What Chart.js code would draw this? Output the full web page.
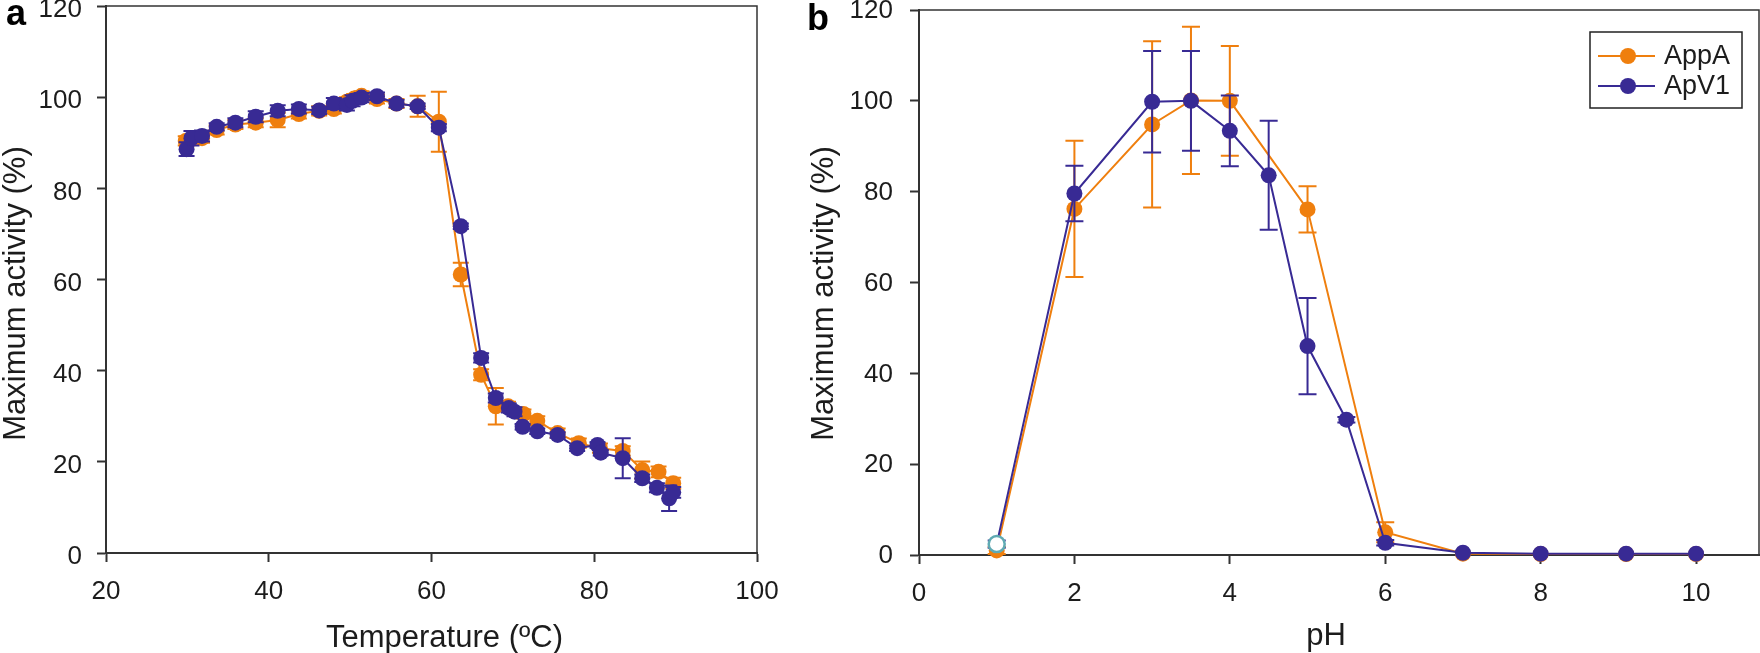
<!DOCTYPE html>
<html>
<head>
<meta charset="utf-8">
<script src="https://cdn.jsdelivr.net/npm/chart.js@4.4.0/dist/chart.umd.min.js"></script>
<style>
  html, body { margin: 0; padding: 0; background: #fff; }
  body { width: 1760px; height: 653px; position: relative; overflow: hidden; }
  canvas { position: absolute; top: 0; }
  #temp-chart { left: 0; }
  #ph-chart { left: 790px; }
</style>
</head>
<body>
<canvas id="temp-chart" width="790" height="653"></canvas>
<canvas id="ph-chart" width="970" height="653"></canvas>
<script>
// panel a: temperature profile
const tempAppA = [29.8, 30.5, 31.8, 33.6, 35.9, 38.4, 41.1, 43.7, 46.2, 48.0, 49.6, 50.5, 51.4, 53.3, 55.7, 58.3, 60.9, 63.6, 66.1, 67.9, 69.4, 71.3, 73.0, 75.5, 78.1, 80.7, 83.5, 85.9, 87.9, 89.7];
const actAppA = [90.4, 90.8, 91.0, 92.8, 94.0, 94.4, 95.0, 96.3, 97.0, 97.4, 99.0, 99.7, 100.3, 99.6, 98.6, 98.0, 94.6, 61.1, 39.1, 32.2, 32.2, 30.5, 29.0, 26.3, 24.1, 23.0, 22.4, 18.2, 17.8, 15.3];
const errAppA = [1.0, 1.0, 1.0, 1.0, 1.0, 1.0, 1.6, 1.0, 1.0, 1.0, 1.0, 1.0, 1.0, 1.0, 1.0, 2.3, 6.6, 2.6, 1.2, 4.0, 1.0, 1.0, 1.0, 1.0, 1.0, 1.0, 1.0, 1.9, 1.2, 1.2];

const tempApV1 = [29.9, 30.5, 31.8, 33.6, 35.9, 38.4, 41.1, 43.7, 46.2, 48.0, 49.6, 50.3, 51.4, 53.3, 55.7, 58.3, 60.9, 63.6, 66.1, 67.9, 69.5, 70.2, 71.2, 73.0, 75.5, 77.9, 80.4, 80.8, 83.5, 85.9, 87.7, 89.2, 89.7];
const actApV1 = [88.6, 91.0, 91.5, 93.5, 94.4, 95.7, 97.0, 97.4, 97.1, 98.6, 98.3, 99.2, 99.9, 100.2, 98.6, 98.0, 93.3, 71.7, 42.8, 34.0, 31.8, 31.0, 27.7, 26.7, 25.9, 23.0, 23.7, 22.0, 20.8, 16.4, 14.3, 12.0, 13.3];
const errApV1 = [1.5, 1.6, 1.2, 0.8, 1.0, 1.2, 1.2, 1.0, 0.8, 1.2, 1.2, 1.2, 1.0, 0.8, 0.8, 0.6, 0.8, 0.6, 1.0, 1.0, 1.0, 1.0, 0.6, 0.6, 0.6, 0.6, 0.6, 0.6, 4.4, 0.8, 1.0, 2.8, 1.2];

// panel b: pH profile
const phAppA = [1, 2, 3, 3.5, 4, 5, 6, 7, 8, 9.1, 10];
const phActAppA = [1.0, 76.2, 94.8, 100.1, 100.0, 76.1, 5.0, 0.3, 0.2, 0.2, 0.2];
const phErrAppA = [0.8, 15.0, 18.3, 16.2, 12.1, 5.1, 2.2, 0, 0, 0, 0];

const phApV1 = [1, 2, 3, 3.5, 4, 4.5, 5, 5.5, 6, 7, 8, 9.1, 10];
const phActApV1 = [2.4, 79.6, 99.8, 100.0, 93.4, 83.6, 46.0, 29.8, 2.7, 0.5, 0.3, 0.3, 0.3];
const phErrApV1 = [0.8, 6.1, 11.2, 11.0, 7.8, 12.0, 10.6, 0.6, 0.6, 0, 0, 0, 0];

const seriesNames = ['AppA', 'ApV1'];
const yTicks = [0, 20, 40, 60, 80, 100, 120];
const tempTicks = [20, 40, 60, 80, 100];
const phTicks = [0, 2, 4, 6, 8, 10];

const ORANGE = '#EF7F0E';
const PURPLE = '#382A94';
const TEAL = '#5FAAB3';
const INK = '#1c1c1c';
const AXIS = '#333333';
const FONT = '"Liberation Sans", Arial, Helvetica, sans-serif';

Chart.defaults.font.family = FONT;
Chart.defaults.color = INK;

function toPoints(xs, ys) {
    return xs.map((x, i) => ({ x: x, y: ys[i] }));
}

// vertical error bars with caps, drawn just before each dataset
const errorBars = {
    id: 'errorBars',
    beforeDatasetDraw(chart, args, opts) {
        const ds = chart.data.datasets[args.index];
        if (!ds.errors) return;
        const xs = chart.scales.x, ys = chart.scales.y;
        const ctx = chart.ctx;
        ctx.save();
        ctx.strokeStyle = ds.borderColor;
        ctx.lineWidth = opts.width || 2;
        ds.data.forEach((p, i) => {
            const e = ds.errors[i];
            if (!e) return;
            const px = xs.getPixelForValue(p.x);
            const top = ys.getPixelForValue(p.y + e);
            const bot = ys.getPixelForValue(p.y - e);
            const c = opts.cap || 8;
            ctx.beginPath();
            ctx.moveTo(px, top); ctx.lineTo(px, bot);
            ctx.moveTo(px - c, top); ctx.lineTo(px + c, top);
            ctx.moveTo(px - c, bot); ctx.lineTo(px + c, bot);
            ctx.stroke();
        });
        ctx.restore();
    }
};

// top and right edges of the plot box, axis titles, panel letter
const frame = {
    id: 'frame',
    beforeDatasetsDraw(chart, args, opts) {
        const { ctx, chartArea: a } = chart;
        ctx.save();
        ctx.strokeStyle = AXIS;
        ctx.lineWidth = 1.5;
        ctx.beginPath();
        ctx.moveTo(a.left, a.top);
        ctx.lineTo(a.right, a.top);
        ctx.lineTo(a.right, a.bottom);
        ctx.stroke();
        ctx.restore();
    },
    afterDraw(chart, args, opts) {
        const { ctx, chartArea: a } = chart;
        ctx.save();
        ctx.fillStyle = INK;
        ctx.font = '31px ' + FONT;
        ctx.textAlign = 'center';
        ctx.textBaseline = 'alphabetic';
        ctx.fillText(opts.xTitle, (a.left + a.right) / 2 + opts.xTitleDx, opts.xTitleBase);
        ctx.translate(opts.yTitleBase, (a.top + a.bottom) / 2 + opts.yTitleDy);
        ctx.rotate(-Math.PI / 2);
        ctx.fillText('Maximum activity (%)', 0, 0);
        ctx.restore();

        ctx.save();
        ctx.fillStyle = '#000';
        ctx.font = 'bold 36px ' + FONT;
        ctx.textBaseline = 'alphabetic';
        ctx.fillText(opts.letter, opts.lx, opts.ly);
        ctx.restore();
    }
};

// legend: line with marker, boxed
const lineLegend = {
    id: 'lineLegend',
    afterDraw(chart, args, opts) {
        if (!opts.show) return;
        const { ctx, chartArea: a } = chart;
        const left = a.right - 169, top = a.top + 22;
        ctx.save();
        ctx.strokeStyle = '#222';
        ctx.lineWidth = 1.5;
        ctx.strokeRect(left, top, 152, 76);
        chart.data.datasets.forEach((ds, i) => {
            const y = top + 24 + i * 30;
            ctx.strokeStyle = ds.borderColor;
            ctx.lineWidth = 2;
            ctx.beginPath();
            ctx.moveTo(left + 8, y); ctx.lineTo(left + 65, y);
            ctx.stroke();
            ctx.fillStyle = ds.borderColor;
            ctx.beginPath();
            ctx.arc(left + 38, y, 8, 0, Math.PI * 2);
            ctx.fill();
            ctx.fillStyle = INK;
            ctx.font = '27px ' + FONT;
            ctx.textBaseline = 'middle';
            ctx.fillText(ds.label, left + 74, y + 1);
        });
        ctx.restore();
    }
};

function axisCommon(ticks, labelPad, tickLabelOffset) {
    return {
        type: 'linear',
        min: ticks[0],
        max: ticks[ticks.length - 1],
        border: { display: true, color: AXIS, width: 2 },
        grid: { display: true, drawOnChartArea: false, drawTicks: true, tickLength: 9, tickColor: AXIS, tickWidth: 2 },
        ticks: { font: { size: 26 }, color: INK, padding: labelPad, labelOffset: tickLabelOffset, stepSize: ticks[1] - ticks[0] },
        title: { display: false },
        afterBuildTicks: s => { s.ticks = ticks.map(v => ({ value: v })); }
    };
}

function makeOptions(cfg) {
    const x = axisCommon(cfg.xTicks, 14, 0);
    x.position = 'bottom';
    if (cfg.xMax !== undefined) x.max = cfg.xMax;
    x.afterFit = s => { s.height = cfg.xHeight; s.paddingLeft = 0; s.paddingRight = 0; };

    const y = axisCommon(yTicks, cfg.yLabelPad, cfg.yLabelShift);
    y.position = 'left';
    y.afterFit = s => { s.width = cfg.yWidth; s.paddingTop = 0; s.paddingBottom = 0; };

    return {
        responsive: false,
        animation: false,
        devicePixelRatio: 1,
        layout: { padding: cfg.padding, autoPadding: false },
        scales: { x: x, y: y },
        plugins: {
            legend: { display: false },
            tooltip: { enabled: false },
            errorBars: { cap: cfg.cap, width: 2 },
            frame: cfg.frame,
            lineLegend: { show: cfg.legend }
        }
    };
}

new Chart(document.querySelector('#temp-chart').getContext('2d'), {
    type: 'scatter',
    data: {
        datasets: [
            {
                label: seriesNames[0],
                data: toPoints(tempAppA, actAppA),
                errors: errAppA,
                showLine: true,
                borderColor: ORANGE,
                backgroundColor: ORANGE,
                borderWidth: 2,
                pointRadius: 8,
                pointBorderWidth: 0,
                clip: false,
                order: 2
            },
            {
                label: seriesNames[1],
                data: toPoints(tempApV1, actApV1),
                errors: errApV1,
                showLine: true,
                borderColor: PURPLE,
                backgroundColor: PURPLE,
                borderWidth: 2,
                pointRadius: 8,
                pointBorderWidth: 0,
                clip: false,
                order: 1
            }
        ]
    },
    options: makeOptions({
        xTicks: tempTicks, xHeight: 100,
        yWidth: 106, yLabelPad: 15, yLabelShift: 4,
        padding: { left: 0, top: 6, right: 33, bottom: 0 },
        cap: 8, legend: false,
        frame: { letter: 'a', lx: 6, ly: 25, xTitle: 'Temperature (ºC)', xTitleDx: 13, xTitleBase: 647, yTitleBase: 25, yTitleDy: 14 }
    }),
    plugins: [errorBars, frame, lineLegend]
});

new Chart(document.querySelector('#ph-chart').getContext('2d'), {
    type: 'scatter',
    data: {
        datasets: [
            {
                label: seriesNames[0],
                data: toPoints(phAppA, phActAppA),
                errors: phErrAppA,
                showLine: true,
                borderColor: ORANGE,
                backgroundColor: ORANGE,
                borderWidth: 2,
                pointRadius: 8,
                pointBorderWidth: 0,
                clip: false,
                order: 2
            },
            {
                label: seriesNames[1],
                data: toPoints(phApV1, phActApV1),
                errors: phErrApV1,
                showLine: true,
                borderColor: PURPLE,
                backgroundColor: PURPLE,
                pointBackgroundColor: phApV1.map((p, i) => i === 0 ? '#ffffff' : PURPLE),
                pointBorderColor: phApV1.map((p, i) => i === 0 ? TEAL : PURPLE),
                pointBorderWidth: phApV1.map((p, i) => i === 0 ? 2.5 : 0),
                borderWidth: 2,
                pointRadius: 8,
                clip: false,
                order: 1
            }
        ]
    },
    options: makeOptions({
        xTicks: phTicks, xMax: 10.81, xHeight: 98,
        yWidth: 129, yLabelPad: 17, yLabelShift: 1,
        padding: { left: 0, top: 10, right: 1, bottom: 0 },
        cap: 9, legend: true,
        frame: { letter: 'b', lx: 17, ly: 30, xTitle: 'pH', xTitleDx: -13, xTitleBase: 645, yTitleBase: 43, yTitleDy: 11 }
    }),
    plugins: [errorBars, frame, lineLegend]
});
</script>
</body>
</html>
